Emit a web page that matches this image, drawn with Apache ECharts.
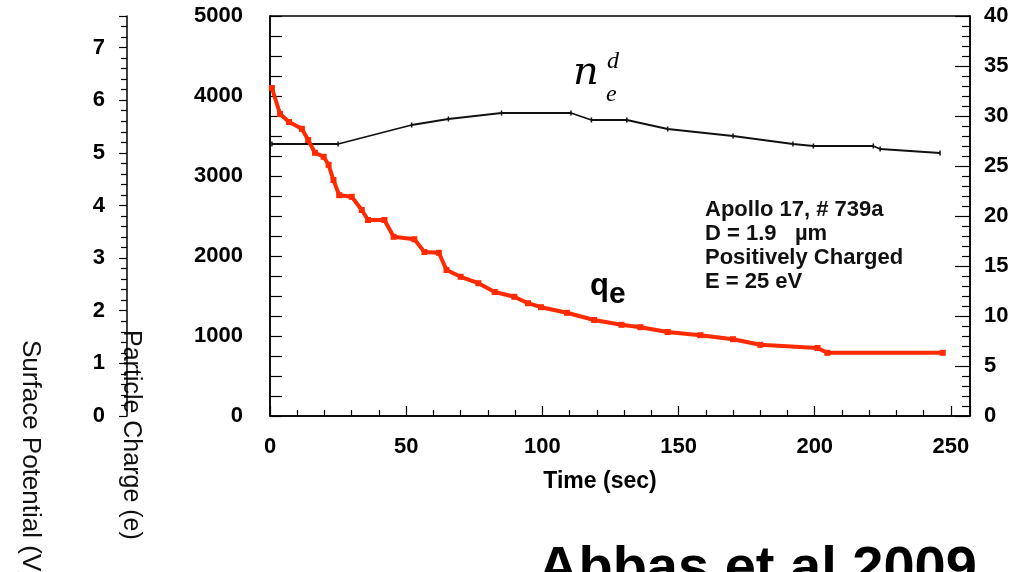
<!DOCTYPE html>
<html>
<head>
<meta charset="utf-8">
<script src="https://cdn.jsdelivr.net/npm/echarts@6/dist/echarts.min.js"></script>
<style>
html, body { margin: 0; padding: 0; background: #fff; }
#main { width: 1015px; height: 572px; }
</style>
</head>
<body>
<div id="main"></div>
<script>
var chart = echarts.init(document.getElementById('main'));

// q_e : particle charge (left axis, e)
var timeQe = [0.7, 3.7, 7, 11.7, 14, 16.5, 19.7, 21.5, 23.3, 25.4, 30, 33.7, 36, 42, 45.4, 53, 56.7, 62, 64.8, 70,
              76.5, 82.5, 89.7, 94.7, 99.5, 109, 119, 129, 136, 146, 158, 170, 180, 201, 204.6, 247];
var qe = [4100, 3775, 3675, 3590, 3450, 3290, 3240, 3140, 2950, 2760, 2740, 2575, 2450, 2450, 2240, 2210, 2050, 2040, 1825, 1740,
          1660, 1550, 1490, 1410, 1360, 1290, 1200, 1140, 1110, 1050, 1010, 960, 890, 850, 790, 790];

// n_e^d (right axis)
var timeNe = [0.7, 25, 52, 65.5, 85, 110.5, 118, 131, 146, 170, 192, 199.5, 221.5, 224, 246];
var ne = [27.2, 27.2, 29.1, 29.7, 30.3, 30.3, 29.6, 29.6, 28.7, 28.0, 27.2, 27.0, 27.0, 26.7, 26.3];

var notes = ['Apollo 17, # 739a', 'D = 1.9   \u00b5m', 'Positively Charged', 'E = 25 eV'];

function pairs(xs, ys) {
    var res = [];
    for (var i = 0; i < xs.length; i++) res.push([xs[i], ys[i]]);
    return res;
}
function plain(v) { return String(v); }

var FONT = '"Liberation Sans", Arial, sans-serif';
var lbl = { color: '#000', fontFamily: FONT, fontWeight: 'bold', fontSize: 22, formatter: plain };

var graphics = [
    { type: 'text', x: 30, y: 340, rotation: -Math.PI / 2,
      style: { text: 'Surface Potential (V)', font: '26px ' + FONT, fill: '#111', textAlign: 'left', textVerticalAlign: 'middle' } },
    { type: 'text', x: 131, y: 330, rotation: -Math.PI / 2,
      style: { text: 'Particle Charge (e)', font: '25px ' + FONT, fill: '#111', textAlign: 'left', textVerticalAlign: 'middle' } },
    { type: 'text', x: 600, y: 482,
      style: { text: 'Time (sec)', font: 'bold 23px ' + FONT, fill: '#000', textAlign: 'center', textVerticalAlign: 'middle' } },
    { type: 'text', x: 538, y: 598,
      style: { text: 'Abbas et al 2009', font: 'bold 56px ' + FONT, fill: '#000', textAlign: 'left', textVerticalAlign: 'bottom' } },
    // n_e^d label
    { type: 'text', x: 573, y: 94,
      style: { text: 'n', font: 'italic 40px "DejaVu Serif", "Liberation Serif", serif', fill: '#000', textAlign: 'left', textVerticalAlign: 'bottom' } },
    { type: 'text', x: 607, y: 74,
      style: { text: 'd', font: 'italic 24px "Liberation Serif", serif', fill: '#000', textAlign: 'left', textVerticalAlign: 'bottom' } },
    { type: 'text', x: 606, y: 107,
      style: { text: 'e', font: 'italic 24px "Liberation Serif", serif', fill: '#000', textAlign: 'left', textVerticalAlign: 'bottom' } },
    // q_e label
    { type: 'text', x: 590, y: 302,
      style: { text: 'q', font: 'bold 31px ' + FONT, fill: '#000', textAlign: 'left', textVerticalAlign: 'bottom' } },
    { type: 'text', x: 609, y: 310,
      style: { text: 'e', font: 'bold 30px ' + FONT, fill: '#000', textAlign: 'left', textVerticalAlign: 'bottom' } }
];
for (var i = 0; i < notes.length; i++) {
    graphics.push({ type: 'text', x: 705, y: 210 + i * 24,
        style: { text: notes[i], font: 'bold 22px ' + FONT, fill: '#111', textAlign: 'left', textVerticalAlign: 'middle' } });
}

var option = {
    backgroundColor: '#fff',
    animation: false,
    grid: { left: 270, right: 45, top: 16, bottom: 156, show: true, borderColor: '#000', borderWidth: 1.5 },
    xAxis: {
        type: 'value', min: 0, max: 257, interval: 50,
        axisLine: { lineStyle: { color: '#000', width: 1.5 } },
        axisTick: { inside: true, length: 10, lineStyle: { color: '#000', width: 1.2 } },
        minorTick: { show: true, splitNumber: 5, length: 6, lineStyle: { color: '#000', width: 1.2 } },
        splitLine: { show: false },
        axisLabel: Object.assign({}, lbl, { margin: 20, showMaxLabel: false })
    },
    yAxis: [{
        type: 'value', position: 'left', min: 0, max: 5000, interval: 1000,
        axisLine: { show: true, lineStyle: { color: '#000', width: 1.5 } },
        axisTick: { show: true, inside: true, length: 12, lineStyle: { color: '#000', width: 1.2 } },
        minorTick: { show: true, splitNumber: 4, length: 12, lineStyle: { color: '#000', width: 1.2 } },
        splitLine: { show: false },
        axisLabel: Object.assign({}, lbl, { margin: 27 })
    }, {
        type: 'value', position: 'right', min: 0, max: 40, interval: 5,
        axisLine: { show: true, lineStyle: { color: '#000', width: 1.5 } },
        axisTick: { show: true, inside: true, length: 15, lineStyle: { color: '#000', width: 1.2 } },
        minorTick: { show: true, splitNumber: 5, length: 8, lineStyle: { color: '#000', width: 1.2 } },
        splitLine: { show: false },
        axisLabel: Object.assign({}, lbl, { margin: 14 })
    }, {
        type: 'value', position: 'left', offset: 143, min: 0, max: 7.6, interval: 1,
        axisLine: { show: true, lineStyle: { color: '#000', width: 1.5 } },
        axisTick: { show: true, length: 8, lineStyle: { color: '#000', width: 1.2 } },
        minorTick: { show: true, splitNumber: 5, length: 6, lineStyle: { color: '#000', width: 1.2 } },
        splitLine: { show: false },
        axisLabel: Object.assign({}, lbl, { margin: 22, formatter: function (v) { return v % 1 === 0 ? String(v) : ''; } })
    }],
    series: [{
        name: 'qe',
        type: 'line',
        yAxisIndex: 0,
        data: pairs(timeQe, qe),
        symbol: 'rect',
        symbolSize: 6,
        lineStyle: { color: '#ff2a00', width: 4 },
        itemStyle: { color: '#ff2a00' },
        z: 3
    }, {
        name: 'ne',
        type: 'line',
        yAxisIndex: 1,
        data: pairs(timeNe, ne),
        symbol: 'rect',
        symbolSize: [1.5, 5],
        lineStyle: { color: '#111', width: 1.8 },
        itemStyle: { color: '#111' },
        z: 2
    }],
    graphic: graphics
};
chart.setOption(option);
</script>
</body>
</html>
